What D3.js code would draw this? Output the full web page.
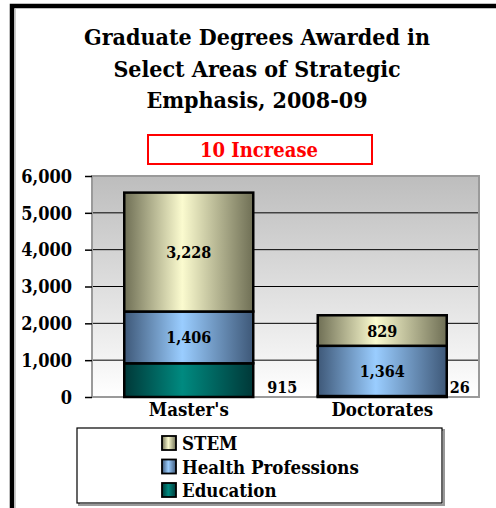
<!DOCTYPE html>
<html>
<head>
<meta charset="utf-8">
<script src="https://cdn.jsdelivr.net/npm/d3@7"></script>
<style>
  body { margin: 0; background: #fff; }
  text { font-family: "DejaVu Serif", serif; font-stretch: condensed; font-weight: bold; }
</style>
</head>
<body>
<div id="chart"></div>
<script>
// degrees by level, stacked bottom-up
const categories = ["Master's", "Doctorates"];
const series = ["Education", "Health Professions", "STEM"];
const education = [915, 26];
const health = [1406, 1364];
const stem = [3228, 829];
const yTicks = [0, 1000, 2000, 3000, 4000, 5000, 6000];
const titleLines = ["Graduate Degrees Awarded in", "Select Areas of Strategic", "Emphasis, 2008-09"];
const badge = "10 Increase";

const WIDTH = 496, HEIGHT = 508;
const plot = { left: 92, right: 479, top: 176, bottom: 397 };

const colors = {
  "Education": ["#003838", "#008a80"],
  "Health Professions": ["#3e5878", "#9acdff"],
  "STEM": ["#6f6f55", "#fbfbcf"]
};

const svg = d3.select("#chart").append("svg")
  .attr("width", WIDTH).attr("height", HEIGHT);

const defs = svg.append("defs");
series.forEach((s, i) => {
  const g = defs.append("linearGradient").attr("id", "grad" + i)
    .attr("x1", 0).attr("x2", 1).attr("y1", 0).attr("y2", 0);
  g.append("stop").attr("offset", 0).attr("stop-color", colors[s][0]);
  g.append("stop").attr("offset", 0.45).attr("stop-color", colors[s][1]);
  g.append("stop").attr("offset", 1).attr("stop-color", colors[s][0]);
});
const bg = defs.append("linearGradient").attr("id", "bg")
  .attr("x1", 0).attr("x2", 0).attr("y1", 0).attr("y2", 1);
bg.append("stop").attr("offset", 0).attr("stop-color", "#bdbdbd");
bg.append("stop").attr("offset", 1).attr("stop-color", "#ffffff");

// outer frame (top + left edges only visible)
svg.append("path")
  .attr("d", "M12,508 L12,6 L496,6")
  .attr("fill", "none").attr("stroke", "#000").attr("stroke-width", 4.5);
svg.append("line").attr("x1", 15).attr("x2", 15).attr("y1", 9).attr("y2", 508)
  .attr("stroke", "#bbb").attr("stroke-width", 1.5);

// title
svg.append("g").selectAll("text").data(titleLines).enter().append("text")
  .attr("x", 257).attr("y", (d, i) => 45 + i * 31.5)
  .attr("text-anchor", "middle").attr("font-size", 23)
  .text(d => d);

// red badge
svg.append("rect").attr("x", 148).attr("y", 135).attr("width", 224).attr("height", 29)
  .attr("fill", "#fff").attr("stroke", "#ff0000").attr("stroke-width", 2);
svg.append("text").attr("x", 259).attr("y", 157)
  .attr("text-anchor", "middle").attr("font-size", 20).attr("fill", "#ff0000")
  .text(badge);

const x = d3.scaleBand().domain(categories)
  .range([plot.left, plot.right]).paddingInner(1 / 3).paddingOuter(1 / 6);
const y = d3.scaleLinear().domain([0, 6000]).range([plot.bottom, plot.top]);

// plot background
svg.append("rect")
  .attr("x", plot.left).attr("y", plot.top)
  .attr("width", plot.right - plot.left).attr("height", plot.bottom - plot.top)
  .attr("fill", "url(#bg)");

// gridlines
svg.append("g").selectAll("line").data(yTicks.filter(t => t > 0 && t < 6000)).enter().append("line")
  .attr("x1", plot.left).attr("x2", plot.right)
  .attr("y1", d => y(d)).attr("y2", d => y(d))
  .attr("stroke", "#000").attr("stroke-width", 1);

svg.append("rect")
  .attr("x", plot.left).attr("y", plot.top)
  .attr("width", plot.right - plot.left).attr("height", plot.bottom - plot.top)
  .attr("fill", "none").attr("stroke", "#9a9a9a").attr("stroke-width", 2);

// stacked bars
const rows = categories.map((c, i) => ({ cat: c, "Education": education[i], "Health Professions": health[i], "STEM": stem[i] }));
const stacked = d3.stack().keys(series)(rows);

const layers = svg.append("g").selectAll("g").data(stacked).enter().append("g")
  .attr("fill", (d, i) => "url(#grad" + i + ")");
layers.selectAll("rect").data(d => d).enter().append("rect")
  .attr("x", d => x(d.data.cat))
  .attr("width", x.bandwidth())
  .attr("y", d => y(d[1]))
  .attr("height", d => y(d[0]) - y(d[1]))
  .attr("stroke", "#000").attr("stroke-width", 2.5);

// value labels (education labels sit outside, right of the bar)
const fmt = d3.format(",");
const outsideOffset = [29, 13];
stacked.forEach((layer, li) => {
  layer.forEach((d, ci) => {
    const v = d[1] - d[0];
    const inside = li > 0;
    svg.append("text")
      .attr("x", inside ? x(d.data.cat) + x.bandwidth() / 2 : x(d.data.cat) + x.bandwidth() + outsideOffset[ci])
      .attr("y", inside ? (y(d[0]) + y(d[1])) / 2 + 6 : plot.bottom - 4)
      .attr("text-anchor", "middle").attr("font-size", 16)
      .text(fmt(v));
  });
});

// y axis
const yAxis = d3.axisLeft(y).tickValues(yTicks).tickFormat(fmt).tickSize(7).tickPadding(13);
const ya = svg.append("g").attr("transform", `translate(${plot.left},0)`).call(yAxis);
ya.select(".domain").remove();
ya.selectAll(".tick line").attr("stroke", "#000").attr("stroke-width", 1.5);
ya.selectAll(".tick text").attr("font-size", 18).attr("font-family", null)
  .attr("fill", "#000").attr("dy", "0.35em");

// x axis labels
const xa = svg.append("g").attr("transform", `translate(0,${plot.bottom})`)
  .call(d3.axisBottom(x).tickSize(0).tickPadding(6));
xa.select(".domain").remove();
xa.selectAll(".tick text").attr("font-size", 18.5).attr("font-family", null).attr("fill", "#000");

// legend
svg.append("rect").attr("x", 79).attr("y", 430).attr("width", 365).attr("height", 75)
  .attr("fill", "none").attr("stroke", "#999").attr("stroke-width", 2);
svg.append("rect").attr("x", 77).attr("y", 428).attr("width", 365).attr("height", 75)
  .attr("fill", "#fff").attr("stroke", "#000").attr("stroke-width", 1.2);
const legendItems = series.slice().reverse();
const lg = svg.append("g").selectAll("g").data(legendItems).enter().append("g")
  .attr("transform", (d, i) => `translate(162,${436 + i * 23.5})`);
lg.append("rect").attr("width", 14).attr("height", 14)
  .attr("fill", d => "url(#grad" + series.indexOf(d) + ")")
  .attr("stroke", "#000").attr("stroke-width", 1.8);
lg.append("text").attr("x", 20).attr("y", 14).attr("font-size", 18.5).text(d => d);
</script>
</body>
</html>
